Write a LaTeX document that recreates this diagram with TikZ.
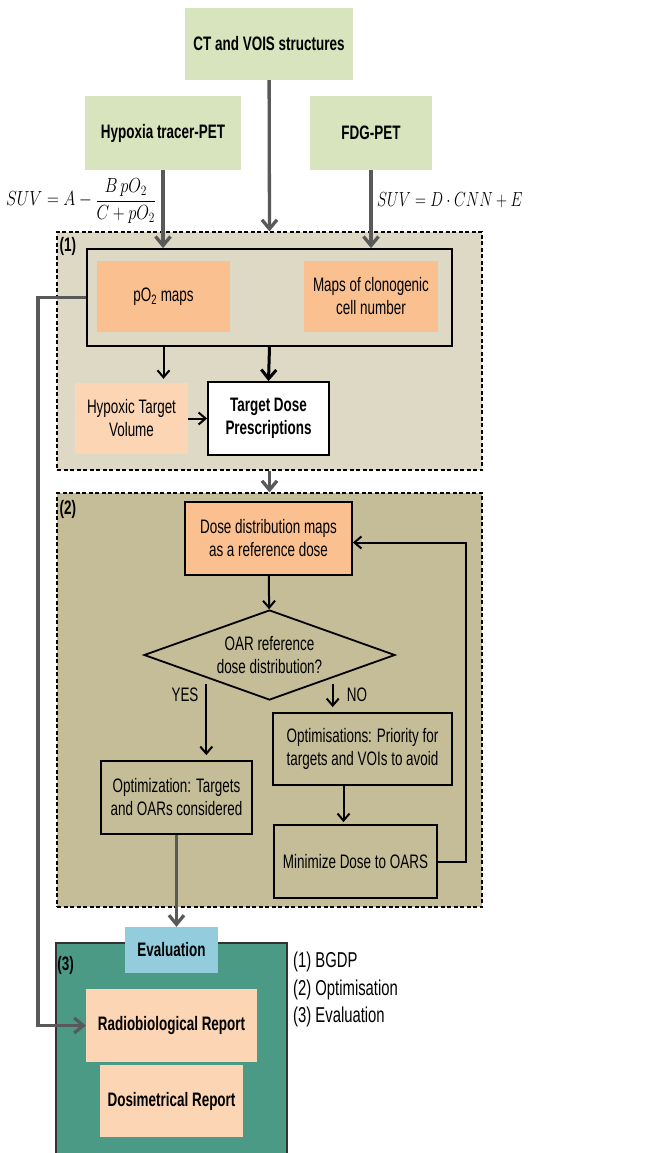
\documentclass[tikz,border=0pt]{standalone}
\usepackage{graphicx}
\usepackage{fontspec}
\setmainfont{Liberation Sans}[FakeStretch=0.69]
\usetikzlibrary{shapes.geometric, arrows.meta, positioning}

\definecolor{srcgreen}{HTML}{D7E4BD}
\definecolor{bgdpbg}{HTML}{DDD9C4}
\definecolor{optbg}{HTML}{C4BD97}
\definecolor{mapfill}{HTML}{FAC090}
\definecolor{peach}{HTML}{FCD5B5}
\definecolor{evalblue}{HTML}{93CDDD}
\definecolor{evalteal}{HTML}{4A9A86}
\definecolor{flowgray}{HTML}{595959}

\begin{document}
\begin{tikzpicture}[
    x=1pt, y=-1pt,
    source/.style={rectangle, fill=srcgreen, inner sep=2pt, align=center, font=\fontsize{19.5}{23}\selectfont\bfseries},
    stage/.style={rectangle, draw=black, dashed, dash pattern=on 4pt off 2.5pt, line width=1.2pt},
    mapbox/.style={rectangle, fill=mapfill, inner sep=2pt, align=center, font=\fontsize{19.5}{23}\selectfont},
    plain/.style={rectangle, draw=black, line width=1.8pt, inner sep=2pt, align=center, font=\fontsize{19.5}{23}\selectfont},
    report/.style={rectangle, fill=peach, inner sep=2pt, align=center, font=\fontsize{19.5}{23}\selectfont\bfseries},
    stagelab/.style={anchor=north west, inner sep=1pt, font=\fontsize{19.5}{23}\selectfont\bfseries},
    small/.style={inner sep=1pt, font=\fontsize{19.5}{23}\selectfont},
    formula/.style={inner sep=0pt, font=\fontsize{17.5}{20}\selectfont},
    flow/.style={line width=3.3pt, color=flowgray, -{Straight Barb[length=9pt,width=15pt]}},
    arrow/.style={line width=2pt, -{Straight Barb[length=7pt,width=12pt]}},
    bigarrow/.style={line width=3pt, -{Straight Barb[length=9pt,width=15pt]}}
]
    \useasboundingbox (0,0) rectangle (661,1153);

    % input images
    \node (ct) [source, minimum width=168pt, minimum height=72pt] at (269,44) {CT and VOIS structures};
    \node (hyp) [source, minimum width=156pt, minimum height=74pt] at (163,133) {Hypoxia tracer-PET};
    \node (fdg) [source, minimum width=122pt, minimum height=74pt] at (371,133) {FDG-PET};
    \node (eqhyp) [formula] at (81,201) {\scalebox{0.95}[1.18]{$\displaystyle SUV = A - \frac{B\,pO_2}{C + pO_2}$}};
    \node (eqfdg) [formula, anchor=west] at (377,200) {\scalebox{0.88}[1.18]{$SUV = D\cdot CNN + E$}};

    % (1) BGDP
    \node (bgdp) [stage, fill=bgdpbg, minimum width=425pt, minimum height=238pt] at (269.5,351) {};
    \node (labA) [stagelab] at ([xshift=2pt,yshift=-5pt]bgdp.north west) {(1)};
    \node (maps) [rectangle, draw=black, line width=1.8pt, fill=bgdpbg, minimum width=365pt, minimum height=97pt] at (269.5,297.5) {};
    \node (po2) [mapbox, minimum width=133pt, minimum height=71pt] at (163.5,296.5) {pO\textsubscript{2} maps};
    \node (clono) [mapbox, minimum width=134pt, minimum height=71pt] at (371,296.5) {Maps of clonogenic\\cell number};
    \node (htv) [mapbox, fill=peach, minimum width=113pt, minimum height=71pt] at (131.5,418.5) {Hypoxic Target\\Volume};
    \node (tdp) [plain, fill=white, font=\fontsize{19.5}{23}\selectfont\bfseries, minimum width=121pt, minimum height=73pt] at (268.5,418.5) {Target Dose\\Prescriptions};

    % (2) Optimisation
    \node (optim) [stage, fill=optbg, minimum width=425pt, minimum height=414pt] at (269.5,700) {};
    \node (labB) [stagelab] at ([xshift=2pt,yshift=-7pt]optim.north west) {(2)};
    \node (ddm) [plain, fill=mapfill, minimum width=167pt, minimum height=73pt] at (268.5,538.5) {Dose distribution maps\\as a reference dose};
    \node (oar) [diamond, draw=black, line width=1.8pt, aspect=2.8, inner sep=0pt, minimum width=251pt, minimum height=90pt, align=center, font=\fontsize{19.5}{23}\selectfont] at (269.5,655) {OAR reference\\dose distribution?};
    \node (optT) [plain, minimum width=151pt, minimum height=73pt] at (176.5,797.5) {Optimization: Targets\\and OARs considered};
    \node (optP) [plain, minimum width=179pt, minimum height=72pt] at (362.5,749) {Optimisations: Priority for\\targets and VOIs to avoid};
    \node (mini) [plain, minimum width=163pt, minimum height=73pt] at (355.5,861.5) {Minimize Dose to OARS};
    \node (yes) [small] at (185,695) {YES};
    \node (no) [small] at (357,695) {NO};

    % (3) Evaluation
    \node (evalbox) [rectangle, draw=black!80, line width=1.5pt, fill=evalteal, minimum width=231pt, minimum height=227pt] at (171.5,1056.5) {};
    \node (evaltab) [rectangle, fill=evalblue, minimum width=93pt, minimum height=46pt, font=\fontsize{19.5}{23}\selectfont\bfseries] at (171.5,950) {Evaluation};
    \node (labC) [stagelab] at ([xshift=1pt,yshift=-13pt]evalbox.north west) {(3)};
    \node (radio) [report, minimum width=171pt, minimum height=73pt] at (171.5,1025.5) {Radiobiological Report};
    \node (dosi) [report, minimum width=143pt, minimum height=72pt] at (171.5,1101) {Dosimetrical Report};
    \node (legend) [anchor=north west, align=left, inner sep=0pt, font=\fontsize{21.5}{27.5}\selectfont] at (293,952) {(1) BGDP\\(2) Optimisation\\(3) Evaluation};

    % connectors
    \draw [flow] (ct) -- (bgdp.north);
    \draw [flow] (hyp) -- (hyp.south |- maps.north);
    \draw [flow] (fdg) -- (fdg.south |- maps.north);
    \draw [arrow] (po2.south |- maps.south) -- ([yshift=4pt]po2.south |- htv.north);
    \draw [bigarrow] (maps.south) -- (tdp.north);
    \draw [arrow] (htv) -- (tdp);
    \draw [flow] (bgdp.south) -- (optim.north);

    \draw [arrow] (ddm) -- (oar);
    \draw [arrow, shorten <=6pt, shorten >=5pt] (oar.south west) -- (oar.south west |- optT.north);
    \draw [arrow, shorten <=6pt, shorten >=5pt] (oar.south east) -- (oar.south east |- optP.north);
    \draw [arrow, shorten >=2pt] ([xshift=-12pt]mini.north |- optP.south) -- ([xshift=-12pt]mini.north);
    \draw [arrow] (mini.east) -- ++(28,0) |- ([yshift=-4pt]ddm.east);
    \draw [flow] (optT) -- (optT.south |- evaltab.north);

    \draw [flow] (maps.west) -- ++(-48,0) |- (radio.west);
\end{tikzpicture}
\end{document}
